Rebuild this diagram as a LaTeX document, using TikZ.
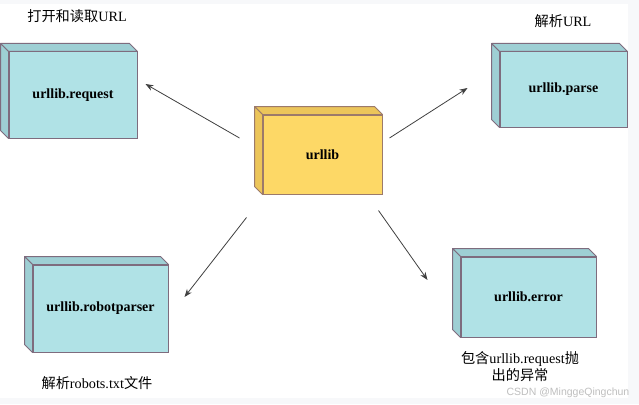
\documentclass[tikz,border=0pt]{standalone}
\usepackage{fontspec}
\setmainfont{Liberation Serif}
\newfontfamily\cjk{Noto Sans CJK SC}
\newfontfamily\markfont{Liberation Sans}
\usepackage{tikz}
\usetikzlibrary{calc,arrows.meta,positioning}
\definecolor{pagegray}{RGB}{247,248,250}
\definecolor{boxcyan}{RGB}{176,226,230}
\definecolor{boxside}{RGB}{158,207,212}
\definecolor{boxline}{RGB}{126,108,126}
\definecolor{libfront}{RGB}{253,216,102}
\definecolor{libside}{RGB}{236,197,90}
\definecolor{libline}{RGB}{156,122,106}
\definecolor{linkgray}{RGB}{64,64,64}
\tikzstyle{module}=[draw=boxline,fill=boxcyan,rectangle,line width=1pt,inner sep=0pt,font=\fontsize{14}{16}\selectfont\bfseries]
\tikzstyle{core}=[module,draw=libline,fill=libfront]
\tikzstyle{note}=[align=center,font=\fontsize{14.2}{17}\selectfont]
\tikzstyle{link}=[draw=linkgray,line width=0.8pt,-{Stealth[length=8pt,width=6pt]}]

\begin{document}
\begin{tikzpicture}[x=1pt,y=-1pt]
\fill[pagegray] (0,0) rectangle (639,404);
\fill[white] (0,4) rectangle (628,398);
\useasboundingbox (0,0) rectangle (639,404);

\node [core,minimum width=119pt,minimum height=79pt] (lib) at (322.5,154.5) {urllib};
\node [module,minimum width=128pt,minimum height=86pt] (req) at (73,95) {urllib.request};
\node [module,minimum width=127pt,minimum height=75pt] (parse) at (563.5,89.5) {urllib.parse};
\node [module,minimum width=135pt,minimum height=87pt] (robot) at (100.5,308.5) {urllib.robotparser};
\node [module,minimum width=135pt,minimum height=80pt] (err) at (528.5,297) {urllib.error};

% depth faces of the boxes
\foreach \n/\f/\l in {lib/libside/libline,req/boxside/boxline,parse/boxside/boxline,robot/boxside/boxline,err/boxside/boxline}{
  \draw[draw=\l,fill=\f,line width=1pt,line join=round]
    (\n.north west) -- ++(-8pt,8pt) -- ($(\n.north east)+(-8pt,8pt)$) -- (\n.north east) -- cycle;
  \draw[draw=\l,fill=\f,line width=1pt,line join=round]
    (\n.north west) -- ++(-8pt,8pt) -- ($(\n.south west)+(-8pt,8pt)$) -- (\n.south west) -- cycle;
}

\node [note] (reqnote) at (77,16) {{\cjk 打开和读取}URL};
\node [note] (parsenote) at (563,21) {{\cjk 解析}URL};
\node [note] (robotnote) at (97,383) {{\cjk 解析}robots.txt{\cjk 文件}};
\node [note] (errnote) at (520,367) {{\cjk 包含}urllib.request{\cjk 抛}\\{\cjk 出的异常}};
\node [font=\markfont\fontsize{10.5}{12}\selectfont,text=black!25] (mark) at (568,393) {CSDN @MinggeQingchun};

\draw[link] ([shift={(-23pt,16.5pt)}]lib.west) -- ([shift={(8pt,11pt)}]req.east);
\draw[link] ([shift={(7pt,16.5pt)}]lib.east) -- ([shift={(-32pt,1.5pt)}]parse.west);
\draw[link] ([shift={(-16pt,-23pt)}]lib.south west) -- ([shift={(16pt,11.5pt)}]robot.east);
\draw[link] ([shift={(-4pt,-16pt)}]lib.south east) -- ([shift={(-33pt,17pt)}]err.west);
\end{tikzpicture}
\end{document}
